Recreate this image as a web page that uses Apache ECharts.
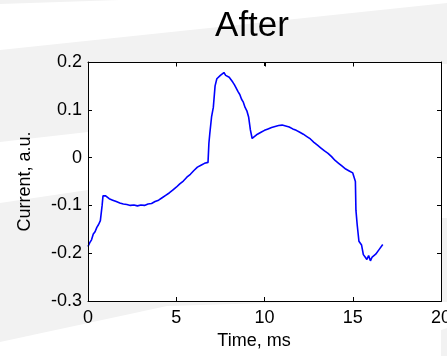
<!DOCTYPE html>
<html>
<head>
<meta charset="utf-8">
<script src="https://cdn.jsdelivr.net/npm/echarts@6/dist/echarts.min.js"></script>
<style>
  html, body { margin: 0; padding: 0; background: #f2f2f2; }
  #chart { width: 447px; height: 356px; }
</style>
</head>
<body>
<div id="chart"></div>
<script>
const xTicks = [0, 5, 10, 15, 20];
const yTicks = [-0.3, -0.2, -0.1, 0, 0.1, 0.2];

// time (ms) and current (a.u.)
const timeMs = [
  0.0, 0.1, 0.2, 0.3, 0.4, 0.5, 0.6, 0.7, 0.75, 0.8, 0.85, 0.9, 1.0, 1.1, 1.2, 1.3, 1.4, 1.5, 1.6, 1.7,
  1.8, 1.9, 2.0, 2.2, 2.4, 2.6, 2.8, 3.0, 3.2, 3.4, 3.6, 3.8, 4.0, 4.2, 4.4, 4.6, 4.8, 5.0, 5.2, 5.4,
  5.6, 5.8, 6.0, 6.2, 6.4, 6.6, 6.8, 6.85, 6.9, 7.0, 7.1, 7.2, 7.3, 7.4, 7.5, 7.6, 7.7, 7.8, 7.9, 8.0,
  8.1, 8.2, 8.3, 8.4, 8.5, 8.6, 8.7, 8.8, 8.9, 9.0, 9.1, 9.2, 9.3, 9.4, 9.6, 9.8, 10.0, 10.2, 10.4, 10.6,
  10.8, 11.0, 11.2, 11.4, 11.6, 11.8, 12.0, 12.2, 12.4, 12.6, 12.8, 13.0, 13.2, 13.4, 13.6, 13.8, 14.0, 14.2, 14.4, 14.6,
  14.8, 15.0, 15.1, 15.15, 15.18, 15.25, 15.35, 15.5, 15.6, 15.7, 15.8, 15.9, 16.0, 16.1, 16.2, 16.3, 16.4, 16.5, 16.6, 16.7
];
const current = [
  -0.186, -0.178, -0.172, -0.160, -0.155, -0.146, -0.140, -0.132, -0.128, -0.100, -0.080, -0.076, -0.080, -0.083, -0.086, -0.085, -0.089, -0.090, -0.092, -0.091,
  -0.095, -0.094, -0.097, -0.098, -0.100, -0.099, -0.101, -0.099, -0.100, -0.097, -0.096, -0.092, -0.089, -0.084, -0.079, -0.074, -0.068, -0.062, -0.055, -0.049,
  -0.041, -0.035, -0.027, -0.020, -0.016, -0.012, -0.010, 0.030, 0.050, 0.085, 0.105, 0.150, 0.165, 0.168, 0.172, 0.176, 0.178, 0.172, 0.174, 0.168,
  0.165, 0.158, 0.152, 0.148, 0.138, 0.132, 0.122, 0.116, 0.105, 0.098, 0.085, 0.058, 0.040, 0.044, 0.049, 0.053, 0.057, 0.060, 0.063, 0.065,
  0.067, 0.068, 0.066, 0.064, 0.060, 0.057, 0.053, 0.049, 0.044, 0.039, 0.032, 0.026, 0.020, 0.014, 0.009, 0.002, -0.006, -0.012, -0.018, -0.024,
  -0.028, -0.032, -0.035, -0.050, -0.110, -0.140, -0.175, -0.183, -0.203, -0.208, -0.213, -0.205, -0.216, -0.208, -0.212, -0.202, -0.205, -0.192, -0.196, -0.182
];

const font = "'Liberation Sans', Arial, sans-serif";
const frameAxis = { show: true, onZero: false, lineStyle: { color: '#000', width: 1 } };
const tick = { show: true, inside: true, length: 4, lineStyle: { color: '#000' } };

// light slide background bands
const bands = [
  { type: 'polygon', z: -10, shape: { points: [[0, 4], [120, 0], [447, 0], [447, 3], [0, 50]] }, style: { fill: '#ffffff' } },
  { type: 'polygon', z: -10, shape: { points: [[0, 142], [88, 132], [300, 90], [300, 200], [88, 190], [0, 203]] }, style: { fill: '#ffffff' } },
  { type: 'polygon', z: -10, shape: { points: [[441, 64], [447, 64], [447, 218], [441, 218]] }, style: { fill: '#ffffff' } },
  { type: 'polygon', z: -10, shape: { points: [[0, 342], [167, 306], [300, 302], [441, 302], [441, 356], [0, 356]] }, style: { fill: '#ffffff' } },
  { type: 'polygon', z: -10, shape: { points: [[441, 302], [447, 302], [447, 328], [363, 356], [441, 356]] }, style: { fill: '#ffffff' } }
];

const chart = echarts.init(document.getElementById('chart'), null, { renderer: 'canvas' });
chart.setOption({
  animation: false,
  backgroundColor: '#f2f2f2',
  graphic: { elements: bands },
  title: {
    text: 'After', left: 247, top: 4, textAlign: 'center',
    textStyle: { fontFamily: font, fontSize: 35, fontWeight: 'normal', color: '#000' }
  },
  grid: {
    left: 88, right: 6, top: 62, bottom: 55, containLabel: false, outerBoundsMode: 'none',
    show: true, backgroundColor: '#fff', borderWidth: 0
  },
  xAxis: [
    {
      type: 'value', min: xTicks[0], max: xTicks[xTicks.length - 1], interval: 5, position: 'bottom',
      name: 'Time, ms', nameLocation: 'middle', nameGap: 30,
      nameTextStyle: { fontFamily: font, fontSize: 18, color: '#000', padding: [0, 21, 0, 0] },
      axisLine: frameAxis, axisTick: tick, splitLine: { show: false },
      axisLabel: { fontFamily: font, fontSize: 18, color: '#000', margin: 8 }
    },
    {
      type: 'value', min: xTicks[0], max: xTicks[xTicks.length - 1], interval: 5, position: 'top',
      axisLine: frameAxis, axisTick: tick, splitLine: { show: false }, axisLabel: { show: false }
    }
  ],
  yAxis: [
    {
      type: 'value', min: yTicks[0], max: yTicks[yTicks.length - 1], interval: 0.1, position: 'left',
      name: 'Current, a.u.', nameLocation: 'middle', nameGap: 54, nameRotate: 90,
      nameTextStyle: { fontFamily: font, fontSize: 18, color: '#000' },
      axisLine: frameAxis, axisTick: tick, splitLine: { show: false },
      axisLabel: { fontFamily: font, fontSize: 18, color: '#000', margin: 6,
        formatter: v => (Math.abs(v) < 1e-9 ? '0' : (+v.toFixed(1)).toString()) }
    },
    {
      type: 'value', min: yTicks[0], max: yTicks[yTicks.length - 1], interval: 0.1, position: 'right',
      axisLine: frameAxis, axisTick: tick, splitLine: { show: false }, axisLabel: { show: false }
    }
  ],
  series: [
    {
      type: 'line',
      data: timeMs.map((t, i) => [t, current[i]]),
      showSymbol: false,
      lineStyle: { color: '#0000ff', width: 1.6 },
      clip: false
    },
    { type: 'line', xAxisIndex: 1, yAxisIndex: 1, data: [], silent: true }
  ]
});

// whole plot frame and top ticks, placed through the axis scale, drawn above everything
const corner = (t, v) => chart.convertToPixel({ xAxisIndex: 0, yAxisIndex: 0 }, [t, v]);
const tl = corner(xTicks[0], yTicks[yTicks.length - 1]);
const br = corner(xTicks[xTicks.length - 1], yTicks[0]);
const x0 = Math.round(tl[0]) + 0.5, y0 = Math.round(tl[1]) + 0.5;
const x1 = Math.round(br[0]) + 0.5, y1 = Math.round(br[1]) + 0.5;
const frame = [
  { type: 'rect', z: 200, zlevel: 1, shape: { x: x0, y: y0, width: x1 - x0, height: y1 - y0 },
    style: { fill: 'none', stroke: '#000', lineWidth: 1 } }
].concat(xTicks.map(t => {
  const x = Math.round(corner(t, 0)[0]) + 0.5;
  return { type: 'line', z: 200, zlevel: 1, shape: { x1: x, y1: y0, x2: x, y2: y0 + 4 }, style: { stroke: '#000', lineWidth: 1 } };
}));
chart.setOption({ graphic: { elements: bands.concat(frame) } });
</script>
</body>
</html>
